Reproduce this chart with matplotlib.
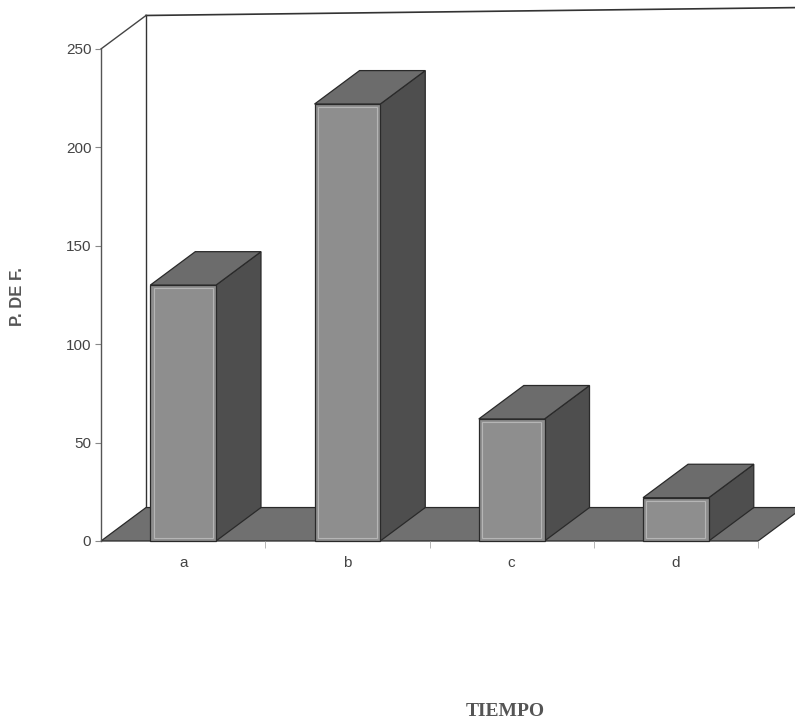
import numpy as np
import matplotlib.pyplot as plt
from matplotlib.patches import Polygon

# valores
categorias = ['a', 'b', 'c', 'd']
valores = [130, 222, 62, 22]
yticks = [0, 50, 100, 150, 200, 250]

ancho = 0.4      # ancho de barra (fraccion de categoria)
dx, dy = 0.274, 17   # profundidad 3D en unidades de datos

c_front = '#8e8e8e'
c_side = '#4e4e4e'
c_top = '#6c6c6c'
c_floor = '#707070'
c_edge = '#2a2a2a'

fig = plt.figure(figsize=(7.95, 7.28), dpi=100)
ax = fig.add_axes([101 / 795, 1 - 541 / 728, 694 / 795, 533 / 728])
ax.set_xlim(0, 4.225)
ax.set_ylim(0, 270.8)

n = len(categorias)

# pared del fondo y diagonal superior
ax.plot([dx, dx], [dy, 250 + dy], color='#333333', lw=1.0, clip_on=False, zorder=0.5)
ax.plot([dx, 4.225], [250 + dy, 250 + dy + 4], color='#333333', lw=1.2,
        clip_on=False, zorder=0.5)
ax.plot([0, dx], [250, 250 + dy], color='#444444', lw=1.0, clip_on=False, zorder=0.5)

# suelo
suelo = Polygon([(0, 0), (n, 0), (n + dx, dy), (dx, dy)], closed=True,
                facecolor=c_floor, edgecolor=c_edge, lw=0.9, clip_on=False, zorder=0.8)
ax.add_patch(suelo)

# barras 3D
for i, v in enumerate(valores):
    x0 = i + 0.5 - ancho / 2
    x1 = x0 + ancho
    lado = Polygon([(x1, 0), (x1 + dx, dy), (x1 + dx, v + dy), (x1, v)],
                   closed=True, facecolor=c_side, edgecolor=c_edge, lw=0.9)
    tapa = Polygon([(x0, v), (x1, v), (x1 + dx, v + dy), (x0 + dx, v + dy)],
                   closed=True, facecolor=c_top, edgecolor=c_edge, lw=0.9)
    frente = Polygon([(x0, 0), (x1, 0), (x1, v), (x0, v)],
                     closed=True, facecolor=c_front, edgecolor=c_edge, lw=0.9)
    for p in (lado, tapa, frente):
        p.set_clip_on(False)
        p.set_zorder(2)
        ax.add_patch(p)
    # borde interior claro del frente
    ax.add_patch(Polygon([(x0 + 0.02, 1.5), (x1 - 0.02, 1.5), (x1 - 0.02, v - 1.5),
                          (x0 + 0.02, v - 1.5)], closed=True, fill=False,
                         edgecolor='#b5b5b5', lw=0.8, clip_on=False, zorder=2.1))

# ejes
for s in ['top', 'right', 'bottom']:
    ax.spines[s].set_visible(False)
ax.spines['left'].set_bounds(0, 250)
ax.spines['left'].set_color('#555555')
ax.spines['left'].set_linewidth(1.0)

ax.set_yticks(yticks)
ax.tick_params(axis='y', length=4, color='#888888', labelsize=11,
               labelcolor='#444444', pad=3)

ax.set_xticks(np.arange(n) + 0.5)
ax.set_xticklabels(categorias)
ax.set_xticks(np.arange(1, n + 1), minor=True)
ax.tick_params(axis='x', which='major', length=0, pad=11, labelsize=11,
               labelcolor='#444444')
ax.tick_params(axis='x', which='minor', length=5, color='#aaaaaa', direction='out')

for lbl in ax.get_xticklabels() + ax.get_yticklabels():
    lbl.set_fontfamily('Liberation Sans')

fig.text(18 / 795, 1 - 297 / 728, 'P. DE F.', rotation=90, ha='center', va='center',
         fontsize=12, fontweight='bold', color='#555555', family='Liberation Sans')
fig.text(505 / 795, 1 - 712 / 728, 'TIEMPO', ha='center', va='center',
         fontsize=14, fontweight='bold', color='#555555', family='Liberation Serif')

fig.savefig('out.png', dpi=100)
